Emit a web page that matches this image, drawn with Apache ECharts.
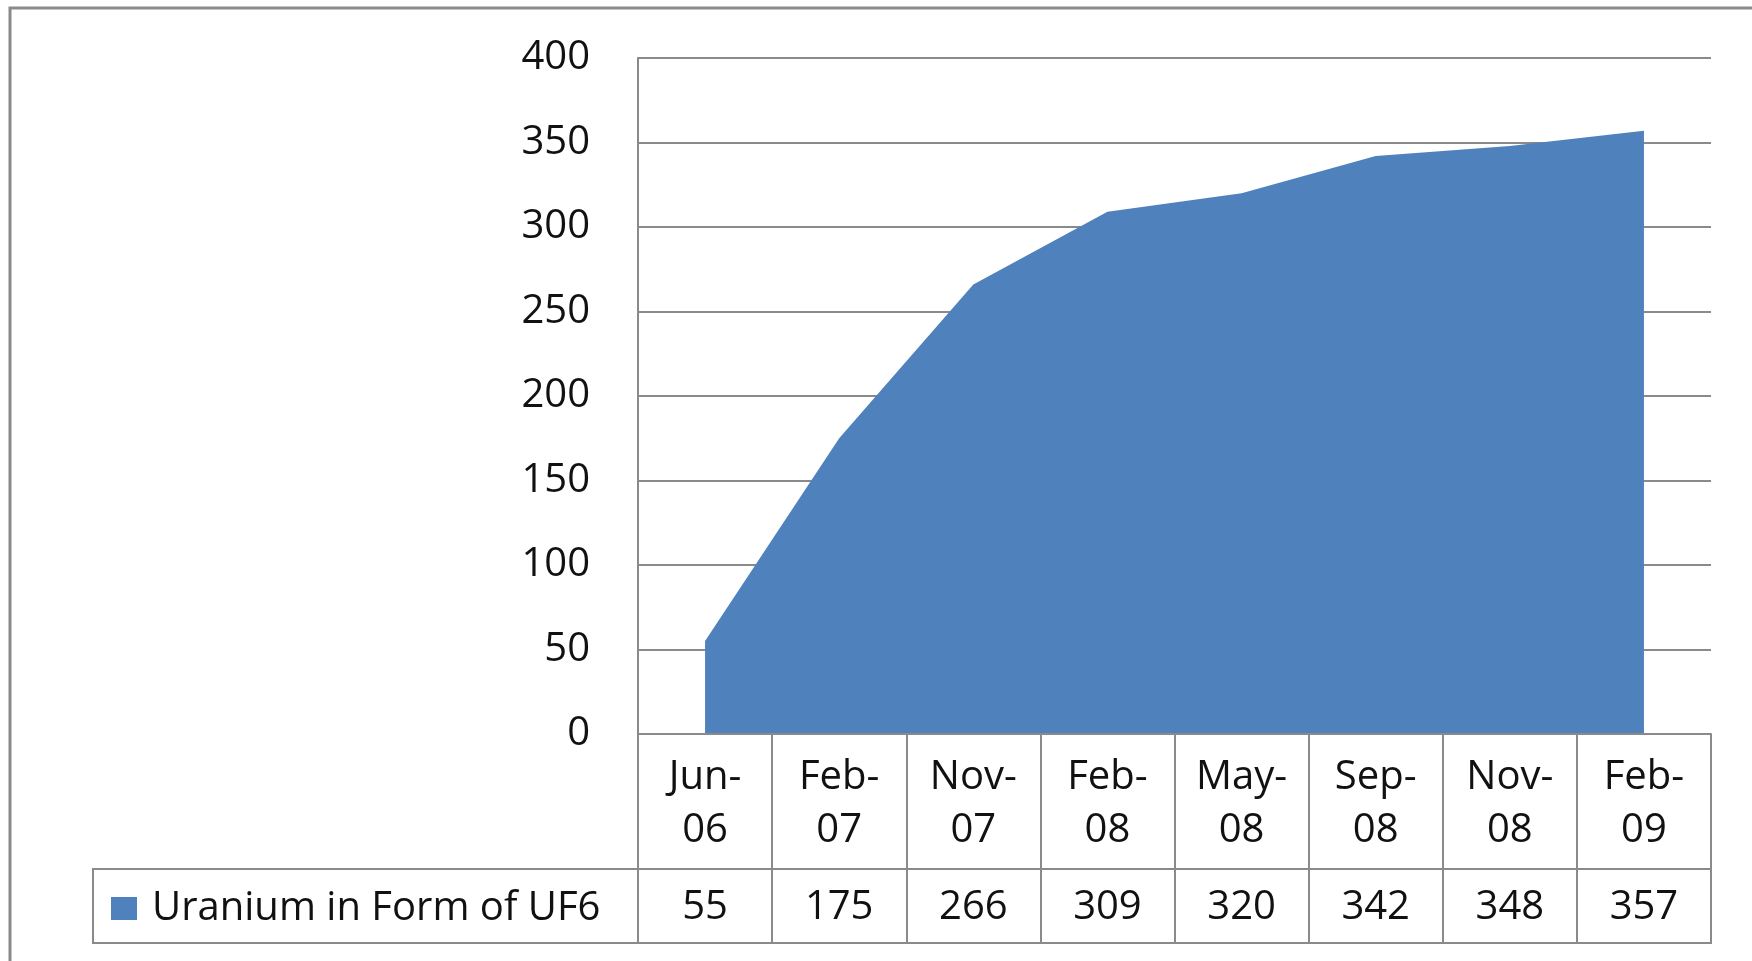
<!DOCTYPE html>
<html>
<head>
<meta charset="utf-8">
<script src="https://cdn.jsdelivr.net/npm/echarts@6/dist/echarts.min.js"></script>
<style>
  html, body { margin: 0; padding: 0; background: #ffffff; }
  #chart { width: 1752px; height: 961px; }
</style>
</head>
<body>
<div id="chart"></div>
<script>
// Stockpile of uranium in the form of UF6, by reporting date
const categories = ['Jun-06', 'Feb-07', 'Nov-07', 'Feb-08', 'May-08', 'Sep-08', 'Nov-08', 'Feb-09'];
const uf6Values = [55, 175, 266, 309, 320, 342, 348, 357];
const seriesName = 'Uranium in Form of UF6';
const yMin = 0;
const yMax = 400;
const yStep = 50;

// Layout
const GRID = { left: 638, top: 58, width: 1073, height: 676 };
const HEAD_ROW = 135;      // height of the date row under the plot
const VALUE_ROW = 74;      // height of the value row
const LEGEND_CELL_LEFT = 93;
const FONT = '"Open Sans"';
const FONT_SIZE = 40;
const TEXT = '#111111';
const RULE = '#8a8a8a';
const FILL = '#4F81BD';

const chart = echarts.init(document.getElementById('chart'), null, { renderer: 'canvas' });

const gridRight = GRID.left + GRID.width;
const gridBottom = GRID.top + GRID.height;

chart.setOption({
  animation: false,
  backgroundColor: '#ffffff',
  textStyle: { fontFamily: FONT },
  grid: { left: GRID.left, top: GRID.top, width: GRID.width, height: GRID.height, containLabel: false },
  legend: {
    data: [seriesName],
    left: LEGEND_CELL_LEFT + 18,
    top: gridBottom + HEAD_ROW + VALUE_ROW / 2 - 22,
    icon: 'rect',
    itemWidth: 26,
    itemHeight: 23,
    padding: 0,
    selectedMode: false,
    textStyle: { fontFamily: FONT, fontSize: FONT_SIZE, color: TEXT, lineHeight: 46, padding: [3, 0, 0, 10] }
  },
  xAxis: [
    {
      type: 'category',
      data: categories,
      boundaryGap: true,
      position: 'bottom',
      z: 3,
      axisLine: { show: true, lineStyle: { color: RULE, width: 2 } },
      axisTick: { show: true, interval: 0, length: HEAD_ROW + VALUE_ROW, lineStyle: { color: RULE, width: 2 } },
      axisLabel: {
        interval: 0,
        margin: 17,
        fontFamily: FONT,
        fontSize: FONT_SIZE,
        lineHeight: 53,
        color: TEXT,
        formatter: (v) => v.replace('-', '-\n')
      },
      splitLine: { show: false }
    },
    {
      type: 'category',
      data: uf6Values.map(String),
      boundaryGap: true,
      position: 'bottom',
      offset: HEAD_ROW,
      z: 3,
      axisLine: { show: true, lineStyle: { color: RULE, width: 2 } },
      axisTick: { show: false },
      axisLabel: {
        interval: 0,
        margin: 4,
        fontFamily: FONT,
        fontSize: FONT_SIZE,
        lineHeight: 70,
        color: TEXT
      },
      splitLine: { show: false }
    }
  ],
  yAxis: {
    type: 'value',
    min: yMin,
    max: yMax,
    interval: yStep,
    axisLine: { show: true, lineStyle: { color: RULE, width: 2 } },
    axisTick: { show: false },
    axisLabel: { margin: 48, fontFamily: FONT, fontSize: FONT_SIZE, color: TEXT, padding: [6, 0, 0, 0] },
    splitLine: { show: true, lineStyle: { color: RULE, width: 2 } }
  },
  series: [
    {
      name: seriesName,
      type: 'line',
      xAxisIndex: 0,
      data: uf6Values,
      symbol: 'none',
      showSymbol: false,
      lineStyle: { width: 0, color: FILL },
      itemStyle: { color: FILL },
      areaStyle: { color: FILL, opacity: 1 },
      z: 2
    }
  ],
  graphic: [
    {
      // value row frame, extended left to hold the legend cell
      type: 'rect',
      silent: true,
      shape: {
        x: LEGEND_CELL_LEFT,
        y: gridBottom + HEAD_ROW,
        width: gridRight - LEGEND_CELL_LEFT,
        height: VALUE_ROW
      },
      style: { fill: 'none', stroke: RULE, lineWidth: 2 },
      z: 10
    },
    {
      // outer chart frame
      type: 'rect',
      silent: true,
      shape: { x: 10, y: 8, width: 1800, height: 1000 },
      style: { fill: 'none', stroke: RULE, lineWidth: 3 },
      z: 10
    }
  ]
});
</script>
</body>
</html>
